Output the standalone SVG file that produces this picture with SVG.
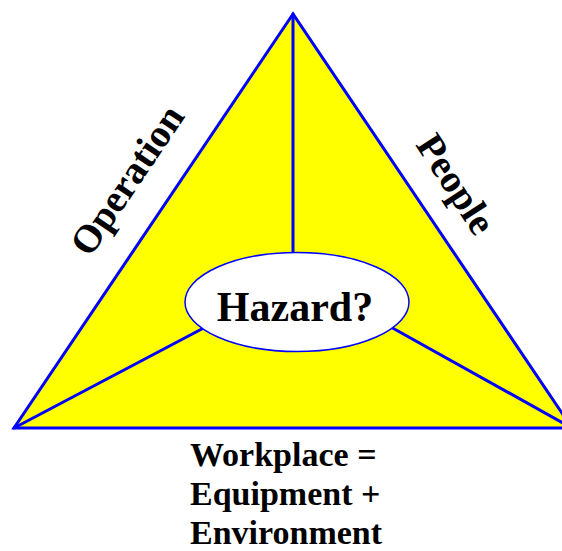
<svg xmlns="http://www.w3.org/2000/svg" width="562" height="551" viewBox="0 0 562 551">
<style>
.edge{stroke:#0000ff;stroke-width:3;fill:none;stroke-linecap:round}
.lbl{font-family:"Liberation Serif","Times New Roman",serif;font-weight:bold;fill:#000}
</style>
<rect width="562" height="551" fill="#ffffff"/>
<g id="triangle">
<polygon points="293,14 14,428 572,428" fill="#ffff00" stroke="#0000ff" stroke-width="3" stroke-linejoin="miter"/>
</g>
<g id="connectors">
<line class="edge" x1="293" y1="14" x2="293" y2="302"/>
<line class="edge" x1="14" y1="428" x2="215" y2="322"/>
<line class="edge" x1="572" y1="428" x2="380" y2="321"/>
</g>
<g id="hazard">
<ellipse cx="297" cy="302" rx="112" ry="49.5" fill="#ffffff" stroke="#0000ff" stroke-width="1.5"/>
<text class="lbl" x="295" y="321" font-size="42" text-anchor="middle">Hazard?</text>
</g>
<g id="operation">
<text class="lbl" font-size="39" text-anchor="middle" transform="translate(127,180) rotate(-56)" y="13">Operation</text>
</g>
<g id="people">
<text class="lbl" font-size="39" text-anchor="middle" transform="translate(456,184) rotate(57)" y="13">People</text>
</g>
<g id="workplace">
<text class="lbl" font-size="34" x="190" y="466">Workplace =</text>
<text class="lbl" font-size="34" x="190" y="505">Equipment +</text>
<text class="lbl" font-size="34" x="190" y="544">Environment</text>
</g>
</svg>
